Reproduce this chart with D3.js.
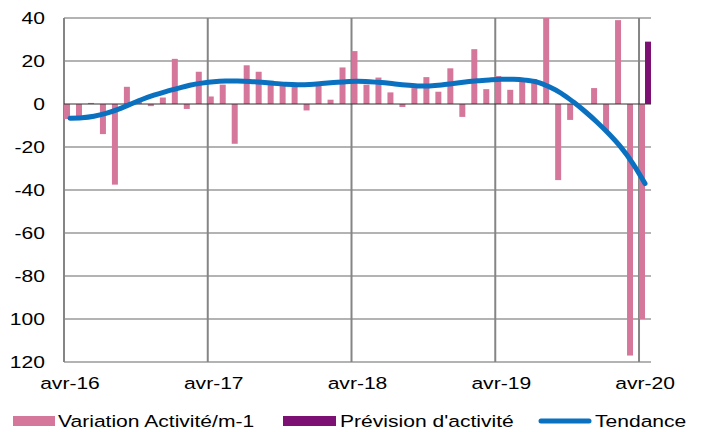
<!DOCTYPE html>
<html>
<head>
<meta charset="utf-8">
<script src="https://cdn.jsdelivr.net/npm/d3@7"></script>
<style>
  html, body { margin: 0; padding: 0; background: #fff; }
  svg { display: block; }
  text { font-family: "Liberation Sans", Arial, sans-serif; fill: #000; }
</style>
</head>
<body>
<svg id="chart" width="704" height="432"></svg>
<script>
// ---- Data ----
const monthNames = ["janv","févr","mars","avr","mai","juin","juil","août","sept","oct","nov","déc"];
const months = [];
for (let k = 0; k < 49; k++) {
  const m = (3 + k) % 12, y = 16 + Math.floor((3 + k) / 12);
  months.push(monthNames[m] + "-" + y);
}
const tickMonths = ["avr-16", "avr-17", "avr-18", "avr-19", "avr-20"];

const variation = [-7, -6, 0.5, -14, -37.5, 8, 1, -1, 3, 21, -2.3, 15,
  3.5, 9, -18.5, 18, 15, 9, 8.5, 8.5, -3, 8.5, 2, 17,
  24.6, 9, 12.3, 5.4, -1.4, 7.4, 12.5, 5.7, 16.6, -6, 25.5, 6.9,
  13, 6.6, 11.7, 11.5, 45, -35.4, -7.4, 0, 7.4, -12.5, 39, -117,
  -100];
const prevision = months.map((d, i) => i === 48 ? 29 : null);
const tendance = [-6.6, -6.4, -5.7, -4.4, -2.5, -0.2, 2.1, 4.1, 5.8, 7.3, 8.7, 9.7,
  10.4, 10.7, 10.7, 10.5, 10.1, 9.6, 9.2, 9.0, 9.1, 9.5, 10.0, 10.4,
  10.6, 10.4, 10.0, 9.4, 8.8, 8.4, 8.4, 8.8, 9.5, 10.2, 10.8, 11.2,
  11.5, 11.5, 11.1, 10.2, 8.0, 5.0, 1.0, -3.5, -8.5, -14, -20.2, -27.8,
  -37];

const yTicks = [40, 20, 0, -20, -40, -60, -80, -100, -120];
const yTickLabels = ["40", "20", "0", "-20", "-40", "-60", "-80", "100", "120"];

const seriesNames = ["Variation Activité/m-1", "Prévision d'activité", "Tendance"];
const colors = { variation: "#d5769b", prevision: "#7d1173", tendance: "#0a70c0" };

// ---- Layout ----
const svg = d3.select("#chart");
const plot = { left: 64, right: 651, top: 18, bottom: 362 };
const SX = 1.24, FS = 17;

const x = d3.scaleBand().domain(months).range([plot.left, plot.right]).padding(0);
const inner = d3.scaleBand().domain(["v", "p"]).range([0, x.bandwidth()]).padding(0);
const y = d3.scaleLinear().domain([-120, 40]).range([plot.bottom, plot.top]);

function wideText(g, tx, ty, str, anchor) {
  const gg = g.append("g").attr("transform", `translate(${tx},${ty}) scale(${SX},1)`);
  gg.append("text").attr("x", 0).attr("y", 0).attr("dy", "0.35em")
    .attr("text-anchor", anchor).style("font-size", FS + "px").text(str);
  return gg;
}

// clip
svg.append("defs").append("clipPath").attr("id", "clip")
  .append("rect").attr("x", plot.left).attr("y", plot.top)
  .attr("width", plot.right - plot.left).attr("height", plot.bottom - plot.top);

// horizontal gridlines
svg.append("g").selectAll("line").data(yTicks.filter(v => v !== 0)).join("line")
  .attr("x1", plot.left).attr("x2", plot.right)
  .attr("y1", d => y(d)).attr("y2", d => y(d))
  .attr("stroke", "#9a9a9a").attr("stroke-width", 1.5);

// vertical gridlines (April boundaries)
svg.append("g").selectAll("line").data(tickMonths).join("line")
  .attr("x1", d => x(d)).attr("x2", d => x(d))
  .attr("y1", plot.top).attr("y2", plot.bottom)
  .attr("stroke", "#858585").attr("stroke-width", 2);

// bars
const barsG = svg.append("g").attr("clip-path", "url(#clip)");
barsG.selectAll("rect.v").data(variation).join("rect").attr("class", "v")
  .attr("x", (d, i) => x(months[i]) + inner("v"))
  .attr("width", inner.bandwidth())
  .attr("y", d => y(Math.max(0, d)))
  .attr("height", d => Math.abs(y(d) - y(0)))
  .attr("fill", colors.variation);
barsG.selectAll("rect.p").data(prevision.filter(d => d !== null)).join("rect").attr("class", "p")
  .attr("x", x(months[prevision.findIndex(d => d !== null)]) + inner("p"))
  .attr("width", inner.bandwidth())
  .attr("y", d => y(Math.max(0, d)))
  .attr("height", d => Math.abs(y(d) - y(0)))
  .attr("fill", colors.prevision);

// zero line
svg.append("line")
  .attr("x1", plot.left).attr("x2", plot.right)
  .attr("y1", y(0)).attr("y2", y(0))
  .attr("stroke", "#333").attr("stroke-width", 1.2);

// trend line
const line = d3.line()
  .x((d, i) => x(months[i]) + x.bandwidth() / 2)
  .y(d => y(d))
  .curve(d3.curveCatmullRom.alpha(0.5));
svg.append("path").datum(tendance)
  .attr("d", line).attr("fill", "none")
  .attr("stroke", colors.tendance).attr("stroke-width", 5)
  .attr("stroke-linecap", "round").attr("stroke-linejoin", "round");

// y axis labels
const yAx = svg.append("g");
yTicks.forEach((v, i) => wideText(yAx, 45, y(v), yTickLabels[i], "end"));

// x axis labels
const xAx = svg.append("g");
tickMonths.forEach(m => wideText(xAx, x(m) + x.bandwidth() / 2, 383, m, "middle"));

// legend
const lg = svg.append("g");
const ly = 421;
lg.append("rect").attr("x", 13).attr("y", ly - 5).attr("width", 42).attr("height", 10).attr("fill", colors.variation);
wideText(lg, 58, ly, seriesNames[0], "start");
lg.append("rect").attr("x", 283).attr("y", ly - 5).attr("width", 53).attr("height", 10).attr("fill", colors.prevision);
wideText(lg, 340, ly, seriesNames[1], "start");
lg.append("line").attr("x1", 541).attr("x2", 589).attr("y1", ly).attr("y2", ly)
  .attr("stroke", colors.tendance).attr("stroke-width", 5).attr("stroke-linecap", "round");
wideText(lg, 595, ly, seriesNames[2], "start");
</script>
</body>
</html>
